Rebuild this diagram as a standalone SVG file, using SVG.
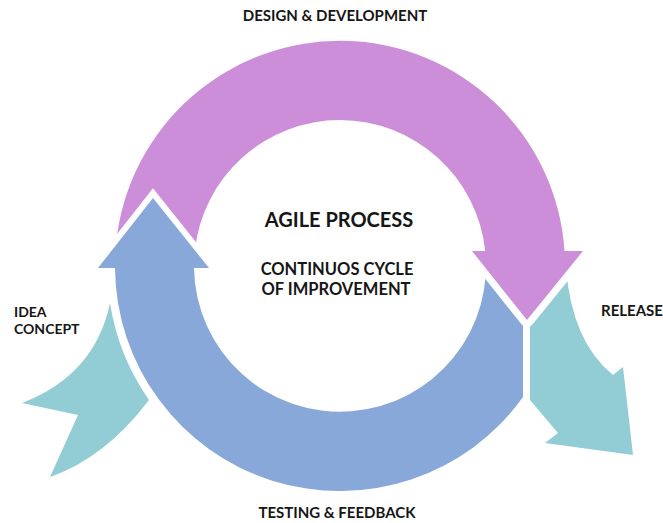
<svg xmlns="http://www.w3.org/2000/svg" width="663" height="523" viewBox="0 0 663 523">
  <style>
    .lbl { font-family: Lato, "Liberation Sans", sans-serif; font-weight: 700; fill: #161616; }
    .purple { fill: #CC8DD9; }
    .blue { fill: #87A8D9; }
    .teal { fill: #92CCD4; }
    .gap { fill: none; stroke: #FFFFFF; }
  </style>
  <rect width="663" height="523" fill="#FFFFFF"/>

  <!-- cycle: ring centred at (340,266), outer r 225, inner r 146 -->
  <g id="connectors">
    <!-- testing & feedback: lower ring, cut flat at x=523 on the right -->
    <path id="testing-body" class="blue"
          d="M 484.6,245.7 L 523,245.7 L 523,397 A 225 225 0 0 1 115,268 L 194,268 A 146 146 0 1 0 484.6,245.7 Z"/>

    <!-- idea concept: notched tail feeding into the ring -->
    <path id="idea-arrow" class="teal"
          d="M 110,303 Q 95,375 22,403 L 78,415 L 50,477 Q 105,458 149,400 A 232 232 0 0 1 110,303 Z"/>

    <!-- release: arrow leaving the ring -->
    <path id="release-arrow" class="teal"
          d="M 530,300 L 566,268 Q 572,342 613,375 L 623,367 L 633,455 L 545,443 L 558,433 L 530,400 Z"/>

    <!-- design & development: upper ring ending in a downward head -->
    <path id="design-arrow" class="purple" stroke="#FFFFFF" stroke-width="14" stroke-linejoin="round" paint-order="stroke"
          d="M 116.2,242.5 A 225 225 0 0 1 564.5,251 L 583,251 L 527,320 L 472,251 L 485.2,251 A 146 146 0 0 0 194.8,250.7 Z"/>

    <!-- head of the testing arrow, drawn over the purple tail -->
    <path class="gap" stroke-width="12" d="M 98,268 L 153,198 L 209,268"/>
    <polygon id="testing-head" class="blue" points="98,268 153,198 209,268"/>
  </g>

  <g id="center-title">
    <text class="lbl" x="339" y="227" font-size="20" text-anchor="middle">AGILE PROCESS</text>
  </g>
  <g id="center-subtitle">
    <text class="lbl" x="337" y="275" font-size="16.5" text-anchor="middle">CONTINUOS CYCLE</text>
    <text class="lbl" x="336" y="295" font-size="16.5" text-anchor="middle">OF IMPROVEMENT</text>
  </g>
  <g id="design-development">
    <text class="lbl" x="335" y="21" font-size="15" text-anchor="middle">DESIGN &amp; DEVELOPMENT</text>
  </g>
  <g id="testing-feedback">
    <text class="lbl" x="337" y="518" font-size="15" text-anchor="middle">TESTING &amp; FEEDBACK</text>
  </g>
  <g id="idea-concept">
    <text class="lbl" x="14" y="317" font-size="14">IDEA</text>
    <text class="lbl" x="14" y="334" font-size="14">CONCEPT</text>
  </g>
  <g id="release">
    <text class="lbl" x="601" y="316" font-size="15">RELEASE</text>
  </g>
</svg>
